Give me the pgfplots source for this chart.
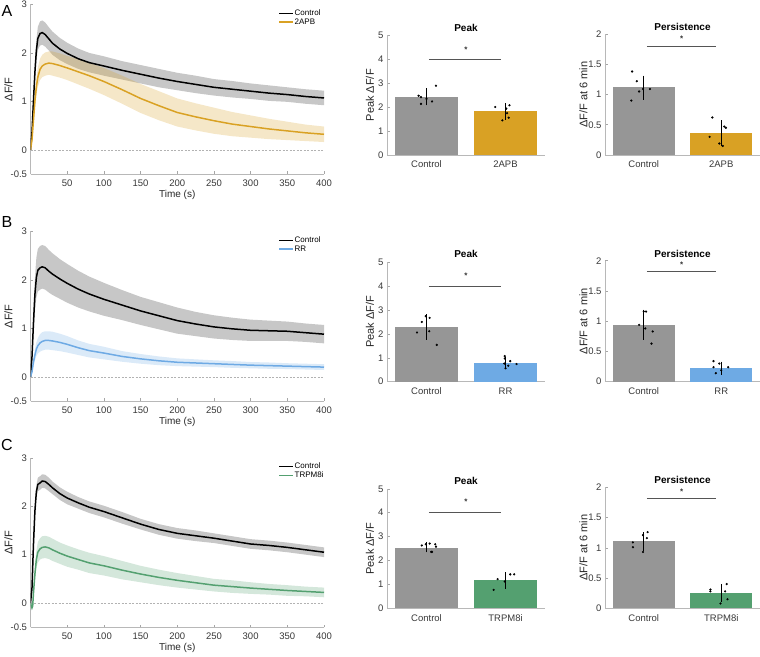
\documentclass[border=0pt]{standalone}
\usepackage{fontspec}
\setmainfont{Liberation Sans}
\setsansfont{Liberation Sans}
\usepackage{pgfplots}
\usepackage{pgfplotstable}
\pgfplotsset{compat=1.18}
\usepgfplotslibrary{fillbetween}

\definecolor{ctlgray}{RGB}{150,150,150}
\definecolor{org}{RGB}{217,161,36}
\definecolor{blu}{RGB}{110,170,228}
\definecolor{grn}{RGB}{84,160,112}
\definecolor{sigc}{RGB}{85,85,85}

% traces: t, mean, lower, upper
\pgfplotstableread{
t m lo hi
0 0 0 0
2 0.35 0.30 0.40
4 1.00 0.88 1.12
6 1.60 1.42 1.78
8 2.05 1.83 2.27
10 2.30 2.06 2.54
13 2.40 2.15 2.65
16 2.42 2.17 2.67
20 2.38 2.13 2.63
25 2.29 2.05 2.53
30 2.20 1.96 2.44
40 2.08 1.85 2.31
50 1.99 1.77 2.21
65 1.88 1.67 2.09
80 1.80 1.60 2.00
100 1.73 1.53 1.93
125 1.64 1.45 1.83
150 1.56 1.37 1.75
175 1.48 1.29 1.67
200 1.41 1.23 1.59
225 1.35 1.17 1.53
250 1.29 1.12 1.46
275 1.25 1.08 1.42
300 1.21 1.05 1.37
325 1.17 1.01 1.33
350 1.14 0.99 1.29
375 1.10 0.95 1.25
400 1.07 0.92 1.22
}\Actl

\pgfplotstableread{
t m lo hi
0 0 0 0
2 0.20 0.17 0.23
4 0.60 0.52 0.68
6 1.00 0.87 1.13
8 1.30 1.13 1.47
10 1.50 1.30 1.70
13 1.66 1.44 1.88
16 1.73 1.50 1.96
20 1.77 1.53 2.01
25 1.79 1.55 2.03
30 1.78 1.53 2.03
40 1.74 1.49 1.99
50 1.69 1.44 1.94
65 1.61 1.35 1.87
80 1.53 1.26 1.80
100 1.41 1.13 1.69
125 1.24 0.95 1.53
150 1.06 0.76 1.36
175 0.91 0.61 1.21
200 0.77 0.48 1.06
225 0.68 0.40 0.96
250 0.60 0.33 0.87
275 0.53 0.28 0.78
300 0.48 0.25 0.71
325 0.43 0.22 0.64
350 0.39 0.20 0.58
375 0.35 0.18 0.52
400 0.32 0.16 0.48
}\Atrt

\pgfplotstableread{
t m lo hi
0 0 0 0
2 0.40 0.32 0.48
4 1.10 0.88 1.32
6 1.70 1.36 2.04
8 2.05 1.64 2.46
10 2.20 1.76 2.64
13 2.25 1.80 2.70
16 2.27 1.82 2.72
20 2.25 1.80 2.70
25 2.18 1.74 2.62
30 2.12 1.69 2.55
40 2.02 1.61 2.43
50 1.93 1.53 2.33
65 1.81 1.43 2.19
80 1.71 1.35 2.07
100 1.60 1.26 1.94
125 1.48 1.17 1.79
150 1.36 1.07 1.65
175 1.26 0.98 1.54
200 1.16 0.89 1.43
225 1.09 0.84 1.34
250 1.03 0.79 1.27
275 0.99 0.76 1.22
300 0.96 0.74 1.18
325 0.95 0.74 1.16
350 0.94 0.74 1.14
375 0.91 0.72 1.10
400 0.88 0.69 1.07
}\Bctl

\pgfplotstableread{
t m lo hi
0 0 0 0
2 0.10 0.08 0.12
4 0.30 0.23 0.37
6 0.45 0.34 0.56
8 0.57 0.43 0.71
10 0.64 0.48 0.80
13 0.70 0.52 0.88
16 0.73 0.54 0.92
20 0.75 0.56 0.94
25 0.75 0.56 0.94
30 0.74 0.55 0.93
40 0.71 0.53 0.89
50 0.67 0.50 0.84
65 0.60 0.45 0.75
80 0.54 0.40 0.68
100 0.49 0.36 0.62
125 0.42 0.31 0.53
150 0.37 0.27 0.47
175 0.33 0.24 0.42
200 0.30 0.22 0.38
225 0.285 0.21 0.36
250 0.27 0.20 0.34
275 0.255 0.185 0.325
300 0.24 0.175 0.305
325 0.23 0.165 0.295
350 0.22 0.16 0.28
375 0.21 0.15 0.27
400 0.20 0.14 0.26
}\Btrt

\pgfplotstableread{
t m lo hi
0 0 0 0
2 0.30 0.27 0.33
4 1.20 1.12 1.28
6 1.90 1.79 2.01
8 2.30 2.17 2.43
10 2.45 2.31 2.59
13 2.48 2.34 2.62
16 2.52 2.38 2.66
20 2.51 2.37 2.65
25 2.45 2.31 2.59
30 2.38 2.25 2.51
40 2.26 2.13 2.39
50 2.17 2.04 2.30
65 2.07 1.95 2.19
80 1.98 1.86 2.10
100 1.89 1.77 2.01
125 1.76 1.64 1.88
150 1.63 1.52 1.74
175 1.52 1.41 1.63
200 1.44 1.33 1.55
225 1.39 1.28 1.50
250 1.34 1.24 1.44
275 1.28 1.18 1.38
300 1.22 1.12 1.32
325 1.19 1.09 1.29
350 1.15 1.05 1.25
375 1.10 1.00 1.20
400 1.05 0.95 1.15
}\Cctl

\pgfplotstableread{
t m lo hi
0 0 0 0
1 -0.05 -0.07 -0.03
2 -0.10 -0.12 -0.08
3 -0.06 -0.09 -0.03
4 0.20 0.15 0.25
6 0.60 0.48 0.72
8 0.90 0.72 1.08
10 1.05 0.84 1.26
13 1.12 0.90 1.34
16 1.15 0.92 1.38
20 1.16 0.93 1.39
25 1.14 0.91 1.37
30 1.10 0.87 1.33
40 1.03 0.81 1.25
50 0.97 0.75 1.19
65 0.90 0.69 1.11
80 0.83 0.62 1.04
100 0.77 0.57 0.97
125 0.68 0.49 0.87
150 0.60 0.43 0.77
175 0.53 0.37 0.69
200 0.47 0.32 0.62
225 0.42 0.28 0.56
250 0.37 0.24 0.50
275 0.34 0.21 0.47
300 0.31 0.19 0.43
325 0.285 0.175 0.395
350 0.26 0.15 0.37
375 0.24 0.14 0.34
400 0.22 0.12 0.32
}\Ctrt

\tikzset{
  sigstar/.style={font=\fontsize{8}{8}\selectfont\bfseries, text=black!80},
  ptitle/.style={font=\fontsize{10}{12}\selectfont\bfseries, anchor=base, inner sep=0pt},
}

\pgfplotsset{
  every axis/.append style={
    scale only axis,
    axis lines=left,
    axis line style={-, draw=black!28, line width=0.6pt},
    tick style={draw=black!35, line width=0.5pt},
    tick align=inside,
    major tick length=2.5pt,
    tick label style={font=\fontsize{9.5}{11}\selectfont, text=black!78},
    xticklabel style={yshift=-2.5pt},
    /pgf/number format/assume math mode=true,
    y label style={font=\fontsize{11}{12}\selectfont, text=black!85, anchor=center},
    x label style={font=\fontsize{10}{12}\selectfont, text=black!85, anchor=center},
    enlargelimits=false,
  },
  trace/.style={
    width=293.5pt, height=169.5pt,
    xmin=0, xmax=400, ymin=-0.5, ymax=3,
    xtick={50,100,...,400}, ytick={-0.5,0,1,2,3},
    xlabel={Time (s)}, ylabel={ΔF/F},
    x label style={at={(axis description cs:0.5,-0.124)}},
    y label style={at={(axis description cs:-0.075,0.5)}},
    legend style={draw=none, fill=none, at={(0.844,0.975)}, anchor=north west,
      font=\fontsize{8}{9}\selectfont, inner sep=0pt, row sep=0pt,
      cells={anchor=west}, nodes={inner sep=0.8pt}},
    legend image code/.code={\draw[##1, line width=1.5pt] (0pt,0pt) -- (14pt,0pt);},
  },
  bars/.style={
    width=158pt, height=119.5pt, clip=false,
    xmin=0.5, xmax=2.5, ymin=0, ymax=5,
    xtick={1,2}, ytick={0,1,2,3,4,5},
    ylabel={Peak ΔF/F},
    y label style={at={(axis description cs:-0.108,0.5)}},
  },
  pers/.style={
    width=155pt, height=121pt, clip=false,
    xmin=0.5, xmax=2.5, ymin=0, ymax=2,
    xtick={1,2}, ytick={0,0.5,1,1.5,2},
    ylabel={ΔF/F at 6 min},
    y label style={at={(axis description cs:-0.139,0.5)}},
  },
  ctlband/.style={fill=black, fill opacity=0.22, draw=none, forget plot},
  meanline/.style={line width=1.5pt, mark=none},
  zeroline/.style={draw=black!30, dash pattern=on 2pt off 1.5pt, line width=0.5pt, forget plot},
  bar/.style={ybar, bar width=0.8, bar shift=0pt, draw=none},
  err/.style={draw=none, mark=none, forget plot,
    error bars/.cd, y dir=both, y explicit,
    error bar style={draw=black, line width=1pt},
    error mark options={draw=black, mark size=2pt, line width=0.8pt}},
  dots/.style={only marks, mark=*, mark size=0.9pt, black, forget plot},
  sig/.style={sigc, line width=1pt, mark=none, forget plot},
}

\begin{document}
\begin{tikzpicture}

% panel letters
\node[font=\fontsize{16}{18}\selectfont] at (7pt,645pt) {A};
\node[font=\fontsize{16}{18}\selectfont] at (7pt,434pt) {B};
\node[font=\fontsize{16}{18}\selectfont] at (7pt,211pt) {C};

% ---------------- A ----------------
\begin{axis}[trace, at={(30.5pt,482pt)}, anchor=south west]
\addplot[name path=ach, draw=none, forget plot] table[x=t,y=hi]{\Actl};
\addplot[name path=acl, draw=none, forget plot] table[x=t,y=lo]{\Actl};
\addplot[ctlband] fill between[of=ach and acl];
\addplot[name path=ath, draw=none, forget plot] table[x=t,y=hi]{\Atrt};
\addplot[name path=atl, draw=none, forget plot] table[x=t,y=lo]{\Atrt};
\addplot[fill=org, fill opacity=0.25, draw=none, forget plot] fill between[of=ath and atl];
\addplot[zeroline] coordinates {(0,0) (400,0)};
\addplot[meanline, black] table[x=t,y=m]{\Actl};
\addlegendentry{Control}
\addplot[meanline, org] table[x=t,y=m]{\Atrt};
\addlegendentry{2APB}
\end{axis}

\begin{axis}[bars, at={(387pt,501pt)}, anchor=south west, xticklabels={Control,2APB}]
\addplot[bar, fill=ctlgray] coordinates {(1,2.43)};
\addplot[bar, fill=org] coordinates {(2,1.82)};
\addplot[err] coordinates {(1,2.43) +- (0,0.27) (2,1.82) +- (0,0.26)};
\addplot[dots] coordinates {(0.90,2.48) (0.93,2.42) (0.93,2.14) (1.00,2.35) (1.07,2.24) (1.12,2.90)
  (1.87,2.01) (2.01,1.94) (2.05,2.08) (2.02,1.75) (1.96,1.45) (2.04,1.56)};
\addplot[sig] coordinates {(1.03,4) (1.94,4)};
\node[sigstar] at (axis cs:1.5,4.42) {*};
\node[ptitle] at (rel axis cs:0.5,1.037) {Peak};
\end{axis}

\begin{axis}[pers, at={(605pt,501pt)}, anchor=south west, xticklabels={Control,2APB}]
\addplot[bar, fill=ctlgray] coordinates {(1,1.12)};
\addplot[bar, fill=org] coordinates {(2,0.37)};
\addplot[err] coordinates {(1,1.115) +- (0,0.165) (2,0.36) +- (0,0.18)};
\addplot[dots] coordinates {(0.85,1.38) (0.91,1.22) (0.94,1.05) (0.99,1.09) (1.08,1.09) (0.84,0.90)
  (1.885,0.62) (2.04,0.47) (2.06,0.45) (1.85,0.30) (1.975,0.19) (2.02,0.15)};
\addplot[sig] coordinates {(1.04,1.8) (1.93,1.8)};
\node[sigstar] at (axis cs:1.49,1.92) {*};
\node[ptitle] at (rel axis cs:0.5,1.029) {Persistence};
\end{axis}

% ---------------- B ----------------
\begin{axis}[trace, at={(30.5pt,255pt)}, anchor=south west]
\addplot[name path=bch, draw=none, forget plot] table[x=t,y=hi]{\Bctl};
\addplot[name path=bcl, draw=none, forget plot] table[x=t,y=lo]{\Bctl};
\addplot[ctlband] fill between[of=bch and bcl];
\addplot[name path=bth, draw=none, forget plot] table[x=t,y=hi]{\Btrt};
\addplot[name path=btl, draw=none, forget plot] table[x=t,y=lo]{\Btrt};
\addplot[fill=blu, fill opacity=0.25, draw=none, forget plot] fill between[of=bth and btl];
\addplot[zeroline] coordinates {(0,0) (400,0)};
\addplot[meanline, black] table[x=t,y=m]{\Bctl};
\addlegendentry{Control}
\addplot[meanline, blu] table[x=t,y=m]{\Btrt};
\addlegendentry{RR}
\end{axis}

\begin{axis}[bars, at={(387pt,274.3pt)}, anchor=south west, xticklabels={Control,RR}]
\addplot[bar, fill=ctlgray] coordinates {(1,2.28)};
\addplot[bar, fill=blu] coordinates {(2,0.79)};
\addplot[err] coordinates {(1,2.28) +- (0,0.45) (2,0.80) +- (0,0.17)};
\addplot[dots] coordinates {(0.94,2.50) (0.99,2.74) (1.04,2.67) (1.035,2.11) (0.88,2.06) (1.13,1.54)
  (1.99,1.07) (1.99,0.97) (2.06,0.86) (1.985,0.76) (2.035,0.67) (2.00,0.56) (2.14,0.74)};
\addplot[sig] coordinates {(1.03,4) (1.94,4)};
\node[sigstar] at (axis cs:1.5,4.42) {*};
\node[ptitle] at (rel axis cs:0.5,1.037) {Peak};
\end{axis}

\begin{axis}[pers, at={(605pt,274.3pt)}, anchor=south west, xticklabels={Control,RR}]
\addplot[bar, fill=ctlgray] coordinates {(1,0.94)};
\addplot[bar, fill=blu] coordinates {(2,0.23)};
\addplot[err] coordinates {(1,0.945) +- (0,0.215) (2,0.225) +- (0,0.075)};
\addplot[dots] coordinates {(0.94,0.94) (1.00,1.16) (1.03,1.16) (1.02,0.88) (1.115,0.83) (1.10,0.63)
  (1.90,0.34) (1.90,0.24) (1.93,0.14) (2.00,0.19) (2.09,0.24) (1.975,0.30)};
\addplot[sig] coordinates {(1.04,1.82) (1.93,1.82)};
\node[sigstar] at (axis cs:1.49,1.93) {*};
\node[ptitle] at (rel axis cs:0.5,1.029) {Persistence};
\end{axis}

% ---------------- C ----------------
\begin{axis}[trace, at={(30.5pt,28.7pt)}, anchor=south west]
\addplot[name path=cch, draw=none, forget plot] table[x=t,y=hi]{\Cctl};
\addplot[name path=ccl, draw=none, forget plot] table[x=t,y=lo]{\Cctl};
\addplot[ctlband] fill between[of=cch and ccl];
\addplot[name path=cth, draw=none, forget plot] table[x=t,y=hi]{\Ctrt};
\addplot[name path=ctl, draw=none, forget plot] table[x=t,y=lo]{\Ctrt};
\addplot[fill=grn, fill opacity=0.25, draw=none, forget plot] fill between[of=cth and ctl];
\addplot[zeroline] coordinates {(0,0) (400,0)};
\addplot[meanline, black] table[x=t,y=m]{\Cctl};
\addlegendentry{Control}
\addplot[meanline, grn] table[x=t,y=m]{\Ctrt};
\addlegendentry{TRPM8i}
\end{axis}

\begin{axis}[bars, at={(387pt,47.7pt)}, anchor=south west, xticklabels={Control,TRPM8i}]
\addplot[bar, fill=ctlgray] coordinates {(1,2.54)};
\addplot[bar, fill=grn] coordinates {(2,1.18)};
\addplot[err] coordinates {(1,2.56) +- (0,0.14) (2,1.165) +- (0,0.255)};
\addplot[dots] coordinates {(0.94,2.63) (0.99,2.68) (1.04,2.71) (1.11,2.68) (1.12,2.58) (1.06,2.36) (1.07,2.36)
  (1.90,1.22) (2.06,1.42) (2.11,1.42) (1.99,1.12) (1.85,0.77)};
\addplot[sig] coordinates {(1.03,4) (1.94,4)};
\node[sigstar] at (axis cs:1.5,4.44) {*};
\node[ptitle] at (rel axis cs:0.5,1.037) {Peak};
\end{axis}

\begin{axis}[pers, at={(605pt,47.7pt)}, anchor=south west, xticklabels={Control,TRPM8i}]
\addplot[bar, fill=ctlgray] coordinates {(1,1.11)};
\addplot[bar, fill=grn] coordinates {(2,0.25)};
\addplot[err] coordinates {(1,1.10) +- (0,0.12) (2,0.25) +- (0,0.12)};
\addplot[dots] coordinates {(1.05,1.26) (0.99,1.21) (1.04,1.16) (0.86,1.09) (0.86,1.01) (0.99,0.93)
  (1.86,0.31) (1.86,0.28) (2.07,0.40) (2.05,0.28) (2.08,0.15) (1.99,0.08)};
\addplot[sig] coordinates {(1.04,1.81) (1.93,1.81)};
\node[sigstar] at (axis cs:1.49,1.93) {*};
\node[ptitle] at (rel axis cs:0.5,1.029) {Persistence};
\end{axis}

\pgfresetboundingbox
\useasboundingbox (0pt,0pt) rectangle (760pt,656pt);
\end{tikzpicture}
\end{document}
